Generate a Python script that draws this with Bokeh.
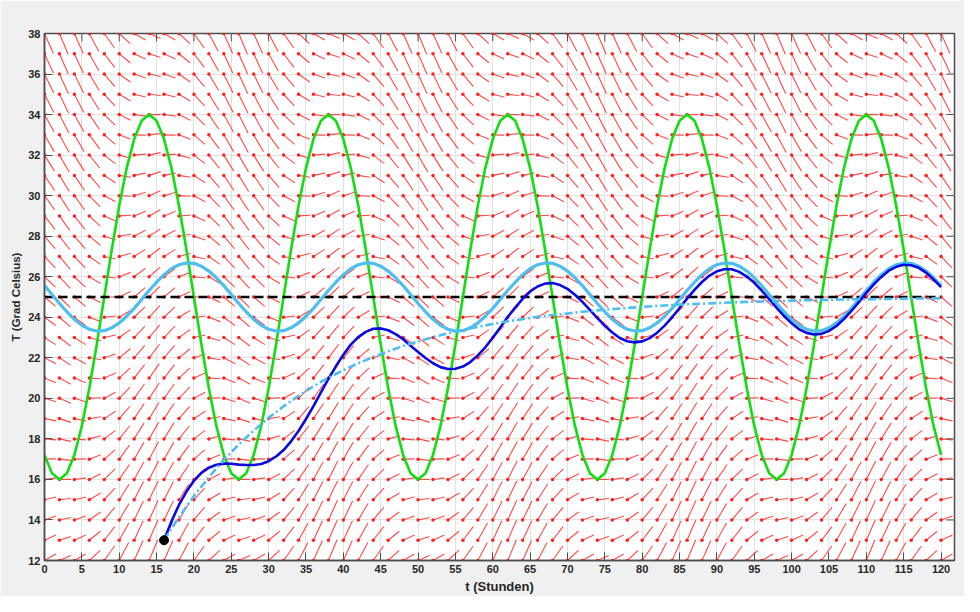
import math
from bokeh.plotting import figure
from bokeh.models import Range1d
from bokeh.embed import file_html
from bokeh.resources import INLINE

# ---------------- data ----------------
hours = list(range(0, 121))
# outside temperature (green), hourly 0..120
outside_temp = [
    17.21, 16.31, 16.00, 16.31, 17.21, 18.64, 20.50, 22.67, 25.00, 27.33, 29.50, 31.36,
    32.79, 33.69, 34.00, 33.69, 32.79, 31.36, 29.50, 27.33, 25.00, 22.67, 20.50, 18.64,
    17.21, 16.31, 16.00, 16.31, 17.21, 18.64, 20.50, 22.67, 25.00, 27.33, 29.50, 31.36,
    32.79, 33.69, 34.00, 33.69, 32.79, 31.36, 29.50, 27.33, 25.00, 22.67, 20.50, 18.64,
    17.21, 16.31, 16.00, 16.31, 17.21, 18.64, 20.50, 22.67, 25.00, 27.33, 29.50, 31.36,
    32.79, 33.69, 34.00, 33.69, 32.79, 31.36, 29.50, 27.33, 25.00, 22.67, 20.50, 18.64,
    17.21, 16.31, 16.00, 16.31, 17.21, 18.64, 20.50, 22.67, 25.00, 27.33, 29.50, 31.36,
    32.79, 33.69, 34.00, 33.69, 32.79, 31.36, 29.50, 27.33, 25.00, 22.67, 20.50, 18.64,
    17.21, 16.31, 16.00, 16.31, 17.21, 18.64, 20.50, 22.67, 25.00, 27.33, 29.50, 31.36,
    32.79, 33.69, 34.00, 33.69, 32.79, 31.36, 29.50, 27.33, 25.00, 22.67, 20.50, 18.64,
    17.21,
]
# periodic (steady) indoor temperature (light blue), hourly 0..120
periodic_temp = [
    25.56, 25.12, 24.68, 24.27, 23.90, 23.60, 23.41, 23.32, 23.34, 23.48, 23.72, 24.05,
    24.44, 24.88, 25.32, 25.73, 26.10, 26.40, 26.59, 26.68, 26.66, 26.52, 26.28, 25.95,
    25.56, 25.12, 24.68, 24.27, 23.90, 23.60, 23.41, 23.32, 23.34, 23.48, 23.72, 24.05,
    24.44, 24.88, 25.32, 25.73, 26.10, 26.40, 26.59, 26.68, 26.66, 26.52, 26.28, 25.95,
    25.56, 25.12, 24.68, 24.27, 23.90, 23.60, 23.41, 23.32, 23.34, 23.48, 23.72, 24.05,
    24.44, 24.88, 25.32, 25.73, 26.10, 26.40, 26.59, 26.68, 26.66, 26.52, 26.28, 25.95,
    25.56, 25.12, 24.68, 24.27, 23.90, 23.60, 23.41, 23.32, 23.34, 23.48, 23.72, 24.05,
    24.44, 24.88, 25.32, 25.73, 26.10, 26.40, 26.59, 26.68, 26.66, 26.52, 26.28, 25.95,
    25.56, 25.12, 24.68, 24.27, 23.90, 23.60, 23.41, 23.32, 23.34, 23.48, 23.72, 24.05,
    24.44, 24.88, 25.32, 25.73, 26.10, 26.40, 26.59, 26.68, 26.66, 26.52, 26.28, 25.95,
    25.56,
]
# solution curve (dark blue), hourly 16..120
solution_hours = list(range(16, 121))
solution_temp = [
    13.00, 13.94, 14.74, 15.40, 15.93, 16.32, 16.58, 16.72, 16.78, 16.77, 16.73, 16.71,
    16.71, 16.76, 16.90, 17.13, 17.45, 17.88, 18.39, 18.98, 19.62, 20.30, 20.96, 21.58,
    22.15, 22.65, 23.02, 23.28, 23.43, 23.45, 23.36, 23.17, 22.92, 22.60, 22.29, 21.99,
    21.73, 21.54, 21.45, 21.46, 21.57, 21.79, 22.12, 22.52, 22.99, 23.50, 24.01, 24.48,
    24.91, 25.27, 25.52, 25.66, 25.69, 25.59, 25.40, 25.11, 24.76, 24.36, 23.96, 23.58,
    23.25, 22.98, 22.82, 22.76, 22.81, 22.97, 23.24, 23.59, 24.00, 24.46, 24.92, 25.35,
    25.74, 26.06, 26.27, 26.37, 26.37, 26.24, 26.01, 25.70, 25.32, 24.89, 24.46, 24.06,
    23.70, 23.41, 23.23, 23.15, 23.18, 23.33, 23.57, 23.91, 24.31, 24.75, 25.20, 25.62,
    25.99, 26.30, 26.49, 26.59, 26.57, 26.44, 26.20, 25.87, 25.49,
]
# non-oscillating trend (dash-dot light blue), every 2 h from 16..120
trend_hours = list(range(16, 121, 2))
trend_temp = [
    13.00, 14.14, 15.18, 16.11, 16.96, 17.72, 18.41, 19.04, 19.61, 20.12, 20.59, 21.01,
    21.39, 21.73, 22.04, 22.32, 22.58, 22.81, 23.02, 23.21, 23.38, 23.53, 23.67, 23.80,
    23.91, 24.02, 24.11, 24.19, 24.27, 24.34, 24.40, 24.46, 24.51, 24.56, 24.60, 24.64,
    24.67, 24.70, 24.73, 24.76, 24.78, 24.80, 24.82, 24.84, 24.85, 24.87, 24.88, 24.89,
    24.90, 24.91, 24.92, 24.93, 24.93,
]
ref_hours = [0, 120]
ref_temp = [25.0, 25.0]
start_t = [16]
start_T = [13]

# direction field grid
field_hours = list(range(0, 121, 2))
field_temps = list(range(12, 39))
field_rate = 0.04
arrow_len = 1.55

x_ticks = list(range(0, 121, 5))
y_ticks = list(range(12, 39, 2))

X_MIN, X_MAX = 0, 121.8
Y_MIN, Y_MAX = 12, 38
FRAME_W, FRAME_H = 910, 532
TICK_PX = 8

# ---------------- direction field ----------------
x0, y0, x1, y1 = [], [], [], []
for h in field_hours:
    ta = outside_temp[h]
    for T in field_temps:
        f = field_rate * (ta - T)
        n = math.sqrt(1.0 + f * f)
        x0.append(h)
        y0.append(T)
        x1.append(h + arrow_len / n)
        y1.append(T + arrow_len * f / n)

# ---------------- figure ----------------
p = figure(width=964, height=596,
           x_range=Range1d(X_MIN, X_MAX), y_range=Range1d(Y_MIN, Y_MAX),
           output_backend="svg", toolbar_location=None,
           min_border_left=44, min_border_right=10,
           min_border_top=33, min_border_bottom=31,
           border_fill_color="#f0f0f0", background_fill_color="white",
           outline_line_color="#4d4d4d", outline_line_width=1.5)

FONT = "Liberation Sans"
AX_COL = "#4d4d4d"
LBL_COL = "#262626"

for ax in (p.xaxis[0], p.yaxis[0]):
    ax.axis_line_color = AX_COL
    ax.axis_line_width = 1.5
    ax.major_tick_line_color = AX_COL
    ax.major_tick_line_width = 1
    ax.major_tick_in = TICK_PX
    ax.major_tick_out = 0
    ax.minor_tick_line_color = None
    ax.major_label_text_font = FONT
    ax.major_label_text_font_style = "bold"
    ax.major_label_text_font_size = "11px"
    ax.major_label_text_color = LBL_COL
    ax.major_label_standoff = 4
    ax.axis_label_text_font = FONT
    ax.axis_label_text_font_style = "bold"
    ax.axis_label_text_color = LBL_COL
    ax.axis_label_standoff = 3

p.xaxis.ticker = x_ticks
p.yaxis.ticker = y_ticks
p.xaxis.axis_label = "t (Stunden)"
p.yaxis.axis_label = "T (Grad Celsius)"
p.xaxis.axis_label_text_font_size = "13px"
p.yaxis.axis_label_text_font_size = "11.5px"

p.xgrid.ticker = x_ticks
p.ygrid.ticker = y_ticks
p.grid.grid_line_color = "#e2e2e2"
p.grid.grid_line_width = 1

# inward ticks on the top and right edges of the box
dy_tick = TICK_PX * (Y_MAX - Y_MIN) / FRAME_H
dx_tick = TICK_PX * (X_MAX - X_MIN) / FRAME_W
p.segment(x0=x_ticks, y0=[Y_MAX] * len(x_ticks), x1=x_ticks, y1=[Y_MAX - dy_tick] * len(x_ticks),
          line_color=AX_COL, line_width=1, level="overlay")
p.segment(x0=[X_MAX] * len(y_ticks), y0=y_ticks, x1=[X_MAX - dx_tick] * len(y_ticks), y1=y_ticks,
          line_color=AX_COL, line_width=1, level="overlay")

# direction field
p.segment(x0=x0, y0=y0, x1=x1, y1=y1, line_color="#ff2a2a", line_width=1.1, line_alpha=0.85)
p.scatter(x0, y0, size=3.5, color="#ff2020", line_width=0)

# curves
p.line(hours, outside_temp, line_color="#11dd11", line_width=2.6)
p.line(ref_hours, ref_temp, line_color="black", line_width=2.6, line_dash="9 5")
p.line(hours, periodic_temp, line_color="#4dbeee", line_width=3.2)
p.line(solution_hours, solution_temp, line_color="#0a0ae0", line_width=2.6)
p.line(trend_hours, trend_temp, line_color="#4dbeee", line_width=2.6, line_dash="8 3 2 3")
p.scatter(start_t, start_T, size=9, color="black")

open("out.html", "w").write(file_html(p, INLINE))
